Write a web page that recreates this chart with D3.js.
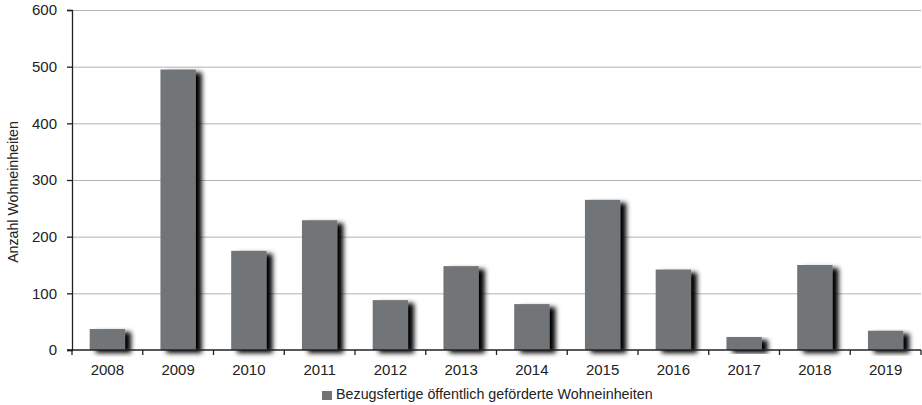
<!DOCTYPE html>
<html><head><meta charset="utf-8">
<script src="https://cdn.jsdelivr.net/npm/d3@7"></script>
<style>body{margin:0;background:#fff}svg{display:block}</style>
</head><body><svg id="c" width="922" height="405"></svg>
<script>
const years = ["2008","2009","2010","2011","2012","2013","2014","2015","2016","2017","2018","2019"];
const values = [37,495,175,229,88,148,81,265,142,23,150,34];
const yTicks = [0,100,200,300,400,500,600];
const seriesName = "Bezugsfertige öffentlich geförderte Wohneinheiten";
const yTitle = "Anzahl Wohneinheiten";

const svg = d3.select("#c");
const m = {l:72, r:1, t:10, b:55};
const W = 922, H = 405;
const x = d3.scaleBand().domain(years).range([m.l, W - m.r]).paddingInner(0.5).paddingOuter(0.25);
const y = d3.scaleLinear().domain([0,600]).range([H - m.b, m.t]);
const font = "'Liberation Sans', Arial, sans-serif";

const defs = svg.append("defs");
const f = defs.append("filter").attr("id","sh").attr("x","-20%").attr("y","-20%").attr("width","160%").attr("height","150%");
f.append("feGaussianBlur").attr("in","SourceAlpha").attr("stdDeviation",2.4).attr("result","b");
f.append("feOffset").attr("in","b").attr("dx",6).attr("dy",3).attr("result","o");
const mg = f.append("feMerge");
mg.append("feMergeNode").attr("in","o");
mg.append("feMergeNode").attr("in","SourceGraphic");

// grid
svg.append("g").selectAll("line").data(yTicks.filter(d=>d>0)).join("line")
  .attr("x1", m.l).attr("x2", W - 1).attr("y1", d=>y(d)+0.5).attr("y2", d=>y(d)+0.5)
  .attr("stroke","#b4b4b4").attr("stroke-width",1);

// bars
svg.append("g").selectAll("rect").data(values).join("rect")
  .attr("x",(d,i)=>x(years[i])).attr("width",x.bandwidth())
  .attr("y",d=>y(d)).attr("height",d=>y(0)-y(d))
  .attr("fill","#727578").attr("filter","url(#sh)");

// y axis
const ya = svg.append("g").attr("transform",`translate(${m.l},0)`)
  .call(d3.axisLeft(y).tickValues(yTicks).tickSize(5).tickPadding(10));
ya.select(".domain").attr("stroke","#222").attr("stroke-width",1.3);
ya.selectAll(".tick line").attr("stroke","#222").attr("stroke-width",1.3);
ya.selectAll("text").attr("font-family",font).attr("font-size",15).attr("fill","#222");

// x axis
const xb = d3.scaleLinear().domain([0,years.length]).range([m.l, W - m.r]);
const xa = svg.append("g").attr("transform",`translate(0,${y(0)})`);
xa.append("line").attr("x1",m.l-5).attr("x2",W-m.r).attr("stroke","#222").attr("stroke-width",1.5);
xa.selectAll("line.t").data(d3.range(years.length+1)).join("line").attr("class","t")
  .attr("x1",d=>xb(d)).attr("x2",d=>xb(d)).attr("y1",0).attr("y2",5).attr("stroke","#222").attr("stroke-width",1.3);
xa.selectAll("text").data(years).join("text")
  .attr("x",d=>x(d)+x.bandwidth()/2).attr("y",25).attr("text-anchor","middle")
  .attr("font-family",font).attr("font-size",15).attr("fill","#222").text(d=>d);

// y title
svg.append("text").attr("transform","translate(18,192) rotate(-90)")
  .attr("text-anchor","middle").attr("font-family",font).attr("font-size",14.2).attr("fill","#222").text(yTitle);

// legend
const lg = svg.append("g");
lg.append("rect").attr("x",322).attr("y",391).attr("width",10).attr("height",9).attr("fill","#727578");
lg.append("text").attr("x",336).attr("y",399).attr("font-family",font).attr("font-size",14.3).attr("fill","#222").text(seriesName);
</script></body></html>
